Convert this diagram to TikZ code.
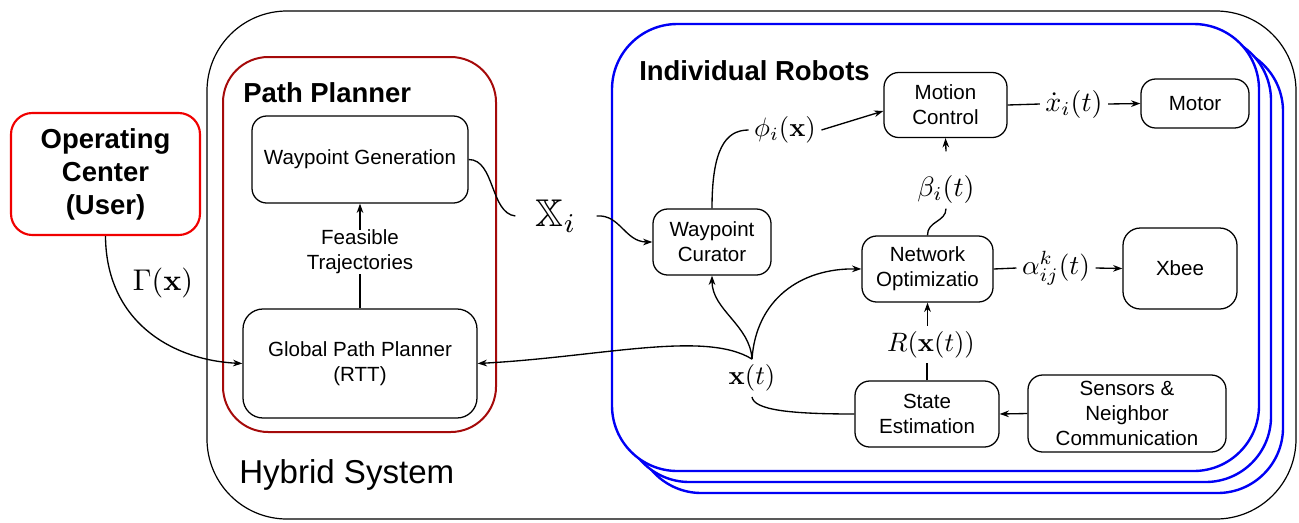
\documentclass[tikz,border=0pt]{standalone}
\usepackage[no-math]{fontspec}
\usepackage{amsmath,amssymb}
\setmainfont{Liberation Sans}
\usetikzlibrary{arrows.meta,calc}
\definecolor{ocred}{RGB}{240,0,0}
\definecolor{ppred}{RGB}{165,10,10}
\definecolor{rblue}{RGB}{0,0,245}
\newcommand{\boldfnt}{\fontsize{20.6}{24.75}\selectfont\bfseries}
\newcommand{\mlab}[2][2]{\scalebox{#1}{$#2$}}
\begin{document}
\begin{tikzpicture}[x=0.75pt,y=-0.75pt,
  bx/.style 2 args={draw, line width=0.95pt, rounded corners=11pt,
    minimum width=#1*0.75pt, minimum height=#2*0.75pt, inner sep=0pt,
    align=center, font=\fontsize{15.4}{18.75}\selectfont},
  lbl/.style={inner sep=4pt, font=\fontsize{10}{12}\selectfont},
  txt/.style={inner sep=0pt, align=center, font=\fontsize{15.4}{18.75}\selectfont},
  ttl/.style={inner sep=0pt, anchor=base west, font=\boldfnt},
  con/.style={line width=1pt},
  arr/.style={con, -{Stealth[length=7pt,width=5pt]}}]
\useasboundingbox (0,0) rectangle (1299,522);
% containers
\draw[line width=0.9pt, rounded corners=60pt] (207,11) rectangle (1296,519);
\draw[ppred, line width=1.5pt, rounded corners=34pt] (223,57) rectangle (496,432);
\foreach \d in {24,12}{
  \draw[rblue, line width=1.8pt, fill=white, rounded corners=49pt]
    (612+\d,24+\d*11/12) rectangle (1259+\d,471+\d*11/12);
}
\draw[rblue, line width=1.8pt, fill=white, rounded corners=49pt] (612,24) rectangle (1259,471);
% titles
\node[ttl] (pptitle) at (243,102) {Path Planner};
\node[ttl] (irtitle) at (639,80) {Individual Robots};
\node[inner sep=0pt, anchor=base west, font=\fontsize{24.8}{30}\selectfont] (hstitle) at (239,483) {Hybrid System};
% boxes
\node[bx={216}{87}] (wg) at (360,159.5) {Waypoint Generation};
\node[bx={234}{109}, rounded corners=15pt] (gpp) at (360,363.5) {Global Path Planner\\(RTT)};
\node[bx={189}{122}, draw=ocred, line width=1.6pt, rounded corners=16pt, font=\boldfnt] (oc) at (105.5,174) {Operating\\Center\\(User)};
\node[bx={118}{66}] (wc) at (712,242) {Waypoint\\Curator};
\node[bx={123}{65}] (mc) at (945.5,105) {Motion\\Control};
\node[bx={108}{49}] (motor) at (1195,103.5) {Motor};
\node[bx={131}{66}] (no) at (927.5,269) {Network\\Optimizatio};
\node[bx={114}{81}, rounded corners=13pt] (xbee) at (1180,268.5) {Xbee};
\node[bx={144}{66}] (se) at (927,414) {State\\Estimation};
\node[bx={198}{77}] (sn) at (1127,413.5) {Sensors \&\\Neighbor\\Communication};
% labels
\node[lbl] (gam) at (163,283) {\mlab[2.25]{\Gamma(\mathbf{x})}};
\node[lbl, inner xsep=15pt, inner ysep=3pt] (xi) at (556,216) {\mlab[2.9]{\mathbb{X}_i}};
\node[lbl] (phi) at (785,130) {\mlab{\phi_i(\mathbf{x})}};
\node[lbl] (xd) at (1074,104) {\mlab[2.1]{\dot{x}_i(t)}};
\node[lbl] (beta) at (946,189) {\mlab[2.1]{\beta_i(t)}};
\node[lbl] (alpha) at (1056,268) {\mlab[2.05]{\alpha_{ij}^k(t)}};
\node[lbl] (rx) at (931,344.5) {\mlab{R(\mathbf{x}(t))}};
\node[lbl] (xt) at (752,378) {\mlab{\mathbf{x}(t)}};
\node[txt] (feas) at (360,252) {Feasible\\Trajectories};
% connectors
\draw[arr] (oc.south) .. controls (106,320) and (170,360) .. (gpp.west);
\draw[con] (gpp.north) -- (feas.south);
\draw[arr] (feas.north) -- (wg.south);
\draw[con] (wg.east) .. controls (495,159.5) and (490,213) .. (xi.west);
\draw[arr] (xi.east) .. controls (620,214) and (625,242) .. (wc.west);
\draw[con] (wc.north) .. controls (712,150) and (725,130) .. (phi.west);
\draw[arr] (phi.east) -- ($(mc.west)+(0,6)$);
\draw[con] (mc.east) -- (xd.west);
\draw[arr] (xd.east) -- (motor.west);
\draw[arr] ($(beta.north)+(0,-18)$) -- (mc.south);
\draw[con] (no.north) .. controls (927,221) and (946,222) .. (beta.south);
\draw[con] (no.east) -- (alpha.west);
\draw[arr] (alpha.east) -- (xbee.west);
\draw[arr] (rx.north -| no.south) -- (no.south);
\draw[con] (se.north) -- (se.north |- rx.south);
\draw[arr] (sn.west) -- (se.east);
\draw[con] (se.west) .. controls (790,414) and (754,410) .. (xt.south);
\draw[arr] (xt.north) .. controls (750,325) and (712,310) .. (wc.south);
\draw[arr] (xt.north) .. controls (756,300) and (800,268) .. (no.west);
\draw[arr] (xt.north) .. controls (705,330) and (600,357) .. (gpp.east);
\end{tikzpicture}
\end{document}
